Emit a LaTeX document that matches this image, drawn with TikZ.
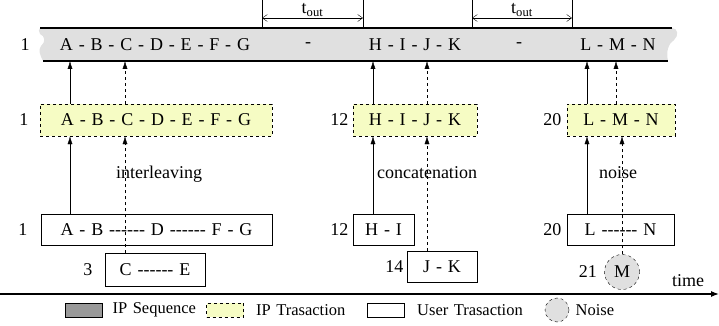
\documentclass[tikz,border=0pt]{standalone}
\usepackage{fontspec}
\setmainfont{Liberation Serif}[WordSpace=1.3]
\usetikzlibrary{arrows.meta, positioning}

\definecolor{seqgray}{gray}{0.88}
\definecolor{keygray}{gray}{0.6}
\definecolor{ipyellow}{RGB}{246,252,196}
\newcommand{\gapline}{-{}-{}-{}-{}-{}-}

\begin{document}
\begin{tikzpicture}[x=1pt, y=-1pt, font=\fontsize{18}{20}\selectfont,
    iptrans/.style={draw, dashed, fill=ipyellow, minimum height=32pt, inner sep=0pt},
    usertrans/.style={draw, fill=white, minimum height=31pt, inner sep=0pt},
    noisenode/.style={draw, dashed, circle, fill=seqgray, inner sep=0pt},
    keybox/.style={draw, minimum width=37pt, minimum height=14pt, inner sep=0pt},
    keytext/.style={font=\fontsize{16.5}{18}\selectfont},
    up/.style={-{Latex[length=8pt, width=5pt]}},
    tout/.style={{Straight Barb[length=5pt, width=7pt]}-{Straight Barb[length=5pt, width=7pt]}}]
  \useasboundingbox (0,0) rectangle (719,326);

  % IP sequence band, torn at both ends
  \fill[seqgray] (40,28) -- (672,28) .. controls (678,28) and (679,36) .. (674,40)
      .. controls (668,44) and (666,52) .. (668,61) -- (43,61)
      .. controls (40,55) and (38,50) .. (41,46) .. controls (46,42) and (45,36) .. (40,34)
      .. controls (38,32) and (39,29) .. (40,28);
  \draw[line width=1.2pt] (40,28) -- (672,28);
  \draw[line width=1.2pt] (43,61) -- (668,61);
  \node (seq1) at (155,45) {A - B - C - D - E - F - G};
  \node (gap1) at (308,45) {-};
  \node (seq2) at (415,45) {H - I - J - K};
  \node (gap2) at (519,45) {-};
  \node (seq3) at (618,45) {L - M - N};
  \node (nseq) at (25,45) {1};

  % t_out
  \foreach \x in {262,363,472,572}
    \draw (\x,0) -- (\x,28);
  \coordinate (ta) at (262,18); \coordinate (tb) at (363,18);
  \coordinate (tc) at (472,18); \coordinate (td) at (572,18);
  \draw[tout] (ta) -- (tb) node[midway, above=-2pt] {t\textsubscript{out}};
  \draw[tout] (tc) -- (td) node[midway, above=-2pt] {t\textsubscript{out}};

  % IP transactions
  \node[iptrans, minimum width=232pt] (ip1) at (156,120) {A - B - C - D - E - F - G};
  \node[iptrans, minimum width=124pt] (ip2) at (415,120) {H - I - J - K};
  \node[iptrans, minimum width=108pt] (ip3) at (621,120) {L - M - N};
  \node[left=8pt of ip1] {1};
  \node[left=1pt of ip2] {12};
  \node[left=2pt of ip3] {20};

  % user transactions
  \node[usertrans, minimum width=231pt] (ut1) at (156.5,229.5) {A - B \gapline{} D \gapline{} F - G};
  \node[usertrans, minimum width=100pt, minimum height=33pt] (ut2) at (155,270) {C \gapline{} E};
  \node[usertrans, minimum width=61pt] (ut3) at (383.5,229.5) {H - I};
  \node[usertrans, minimum width=70pt] (ut4) at (442,266.5) {J - K};
  \node[usertrans, minimum width=107pt] (ut5) at (620.5,230) {L \gapline{} N};
  \node[noisenode, minimum size=35pt] (mnoise) at (622,272) {M};
  \node[left=10pt of ut1] {1};
  \node[left=9pt of ut2] {3};
  \node[left=1pt of ut3] {12};
  \node[left=0pt of ut4] {14};
  \node[left=2pt of ut5] {20};
  \node[left=4pt of mnoise] {21};

  % links
  \coordinate (sA) at (70,61); \coordinate (sC) at (125,61);
  \coordinate (sH) at (373,61); \coordinate (sJ) at (427,61);
  \coordinate (sL) at (587,61); \coordinate (sM) at (616,61);
  \draw[up] (ip1.north -| sA) -- (sA);
  \draw[up, dashed] (ip1.north -| sC) -- (sC);
  \draw[up] (ip2.north -| sH) -- (sH);
  \draw[up, dashed] (ip2.north -| sJ) -- (sJ);
  \draw[up] (ip3.north -| sL) -- (sL);
  \draw[up, dashed] (ip3.north -| sM) -- (sM);
  \draw[up] (ut1.north -| sA) -- (ip1.south -| sA);
  \draw[up, dashed] (ut2.north -| sC) -- (ip1.south -| sC);
  \draw[up] (ut3.north -| sH) -- (ip2.south -| sH);
  \draw[up, dashed] (ut4.north -| sJ) -- (ip2.south -| sJ);
  \draw[up] (ut5.north -| sL) -- (ip3.south -| sL);
  \draw[up, dashed] (mnoise.north) -- (ip3.south -| mnoise.north);
  \node (lint) at (159,174) {interleaving};
  \node (lcat) at (427,173) {concatenation};
  \node (lnoise) at (618,173) {noise};

  % time axis
  \coordinate (t0) at (0,294); \coordinate (t1) at (719,294);
  \draw[line width=1.2pt, -{Latex[length=8pt, width=6pt]}] (t0) -- (t1);
  \node (ltime) at (688,281) {time};

  % legend
  \node[keybox, fill=keygray] (kseq) at (83.5,310) {};
  \node[keytext, right=7pt of kseq] (lseq) {IP Sequence};
  \node[keybox, dashed, fill=ipyellow] (kip) at (225,310) {};
  \node[keytext, right=9pt of kip] (lip) {IP Trasaction};
  \node[keybox, fill=white] (kut) at (386,310) {};
  \node[keytext, right=9pt of kut] (lut) {User Trasaction};
  \node[noisenode, minimum size=24pt] (kno) at (557,310) {};
  \node[keytext, right=3pt of kno] (lno) {Noise};
\end{tikzpicture}
\end{document}
